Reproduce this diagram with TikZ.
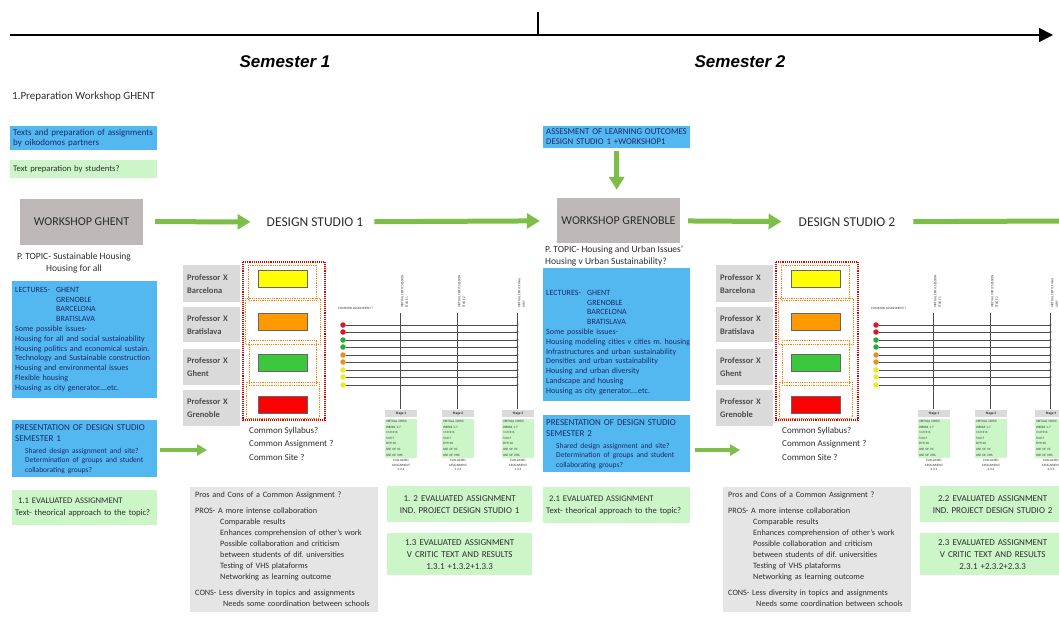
\documentclass[tikz,border=0pt]{standalone}
\usepackage{fontspec}
\setmainfont{Carlito}
\newfontfamily\semfont{Liberation Sans}
\usetikzlibrary{arrows.meta,positioning}

\definecolor{skyblue}{RGB}{84,184,240}
\definecolor{mint}{RGB}{204,246,200}
\definecolor{taupe}{RGB}{190,184,184}
\definecolor{profgrey}{RGB}{218,218,218}
\definecolor{palegrey}{RGB}{229,229,229}
\definecolor{leaf}{RGB}{124,190,72}
\definecolor{navy}{RGB}{28,42,105}
\definecolor{darktext}{RGB}{45,45,45}
\definecolor{dotred}{RGB}{215,25,35}
\definecolor{dotgreen}{RGB}{40,170,60}
\definecolor{dotorange}{RGB}{240,140,30}
\definecolor{dotyellow}{RGB}{235,235,40}
\definecolor{boxyellow}{RGB}{255,255,0}
\definecolor{boxorange}{RGB}{255,153,0}
\definecolor{boxgreen}{RGB}{60,200,60}
\definecolor{boxred}{RGB}{255,0,0}

\newcommand{\fsz}[2]{\fontsize{#1}{#2}\selectfont}

\begin{document}
\frenchspacing
\begin{tikzpicture}[
    x=1pt, y=-1pt,
    semester/.style={font=\semfont\bfseries\itshape\fsz{17}{20}},
    plain/.style={font=\fsz{11}{13}, text=darktext, inner sep=0pt},
    topic/.style={font=\fsz{9.5}{12}, text=darktext, inner sep=0pt},
    bluebox/.style={fill=skyblue, text=navy, anchor=north west, align=left, inner xsep=3pt, inner ysep=3pt, text width=141pt, font=\fsz{9}{10}},
    greenbox/.style={fill=mint, text=darktext, anchor=north west, align=left, inner xsep=3pt, inner ysep=3pt, text width=141pt, font=\fsz{8.6}{12}},
    evalbox/.style={fill=mint, text=darktext, anchor=north west, align=center, inner xsep=3pt, text width=139pt, minimum height=36pt, font=\fsz{9}{12}},
    workshop/.style={fill=taupe, text=darktext, minimum width=123pt, minimum height=46pt, font=\fsz{12}{14}},
    studio/.style={text=darktext, inner sep=0pt, font=\fsz{13.5}{15}},
    prof/.style={fill=profgrey, text=darktext!85, anchor=north west, align=left, text width=49pt, inner xsep=4pt, font=\bfseries\fsz{8.5}{13}},
    common/.style={anchor=north west, align=left, text=darktext, inner sep=0pt, font=\fsz{9}{13.5}},
    prosbox/.style={fill=palegrey, text=darktext, anchor=north west, align=left, inner xsep=5pt, inner ysep=5pt, text width=178pt, font=\fsz{8.2}{11}},
    tiny/.style={text=darktext, inner sep=0pt, font=\fsz{3.3}{4.5}},
    stagehead/.style={fill=profgrey, text=darktext, minimum width=32pt, minimum height=7pt, inner sep=0pt, font=\bfseries\fsz{3.5}{4}},
    stagebody/.style={fill=mint, text=darktext, text width=30pt, inner xsep=1pt, inner ysep=1.5pt, align=left, font=\fsz{3.3}{5.6}},
    stagenote/.style={align=center, text=darktext, inner sep=0pt, font=\fsz{3.3}{4.5}},
    dot/.style={circle, minimum size=5.5pt, inner sep=0pt},
    chartline/.style={line width=0.5pt, black!70, -{Stealth[length=2.5pt, width=2pt]}},
    reddots/.style={densely dotted, line width=1.1pt, red!85!black},
    orangedots/.style={densely dotted, line width=0.8pt, orange},
    group/.style={draw=black!60, line width=0.5pt},
    timeline/.style={line width=1.6pt, -{Triangle[length=14pt, width=14pt]}},
    bigarrow/.style={draw=leaf, line width=5pt, -{Triangle[length=13pt, width=15pt]}},
    bigline/.style={draw=leaf, line width=5pt},
    smallarrow/.style={draw=leaf, line width=4pt, -{Triangle[length=10pt, width=11pt]}}
]
    \useasboundingbox (0,0) rectangle (1059,616);

    % Timeline
    \coordinate (tstart) at (10,35);
    \coordinate (tend) at (1053,35);
    \coordinate (tmid) at (538,35);
    \coordinate (ttop) at (538,12);
    \draw [timeline] (tstart) -- (tend);
    \draw [line width=1.2pt] (tmid) -- (ttop);

    \node [semester] (sem1) at (285,62) {Semester 1};
    \node [semester] (sem2) at (740,62) {Semester 2};

    % Preparation
    \node [plain, anchor=west] (prep) at (12,97) {1.Preparation Workshop GHENT};
    \node [bluebox, minimum height=24pt] (texts) at (10,126) {Texts and preparation of assignments\\by oikodomos partners};
    \node [greenbox, minimum height=18pt] (students) at (10,160) {Text preparation by students?};

    % Workshops and design studios
    \node [workshop] (ghent) at (81.5,221.5) {WORKSHOP GHENT};
    \node [studio] (studio1) at (315,222) {DESIGN STUDIO 1};
    \node [workshop, minimum height=45pt] (grenoble) at (618.5,220.5) {WORKSHOP GRENOBLE};
    \node [studio] (studio2) at (847,222) {DESIGN STUDIO 2};
    \coordinate (rightedge) at (1059,221);

    \draw [bigarrow, shorten <=12pt, shorten >=16pt] (ghent) -- (studio1);
    \draw [bigarrow, shorten <=11pt, shorten >=17pt] (studio1) -- (grenoble);
    \draw [bigarrow, shorten <=8pt, shorten >=17pt] (grenoble) -- (studio2);
    \draw [bigline, shorten <=18pt] (studio2) -- (rightedge);

    % Assessment before Grenoble
    \node [bluebox, font=\fsz{8.8}{10}] (assess) at (543,126) {\mbox{ASSESMENT OF LEARNING OUTCOMES}\\DESIGN STUDIO 1 +WORKSHOP1};
    \draw [bigarrow, shorten <=3pt, shorten >=8pt] (assess) -- (assess |- grenoble.north);

    % Semester 1: topic, lectures, presentation
    \node [topic, align=center] (topic1) at (74,263) {P. TOPIC- Sustainable Housing\\Housing for all};

    \node [bluebox, text width=139pt, inner ysep=6pt, font=\fsz{8}{9.8}] (lectures1) at (12,281) {%
        \makebox[41pt][l]{LECTURES-}GHENT\\
        \hspace*{41pt}GRENOBLE\\
        \hspace*{41pt}BARCELONA\\
        \hspace*{41pt}BRATISLAVA\\
        Some possible issues-\\
        \mbox{Housing for all and social sustainability}\\
        \mbox{Housing politics and economical sustain.}\\
        \mbox{Technology and Sustainable construction}\\
        Housing and environmental issues\\
        Flexible housing\\
        Housing as city generator....etc.};

    \node [bluebox, text width=139pt, inner ysep=4pt] (pres1) at (12,420) {%
        \fsz{9}{11}PRESENTATION OF DESIGN STUDIO\\
        SEMESTER 1\\[3pt]
        \fsz{7.5}{9}\hspace*{10pt}Shared design assignment and site?\\
        \hspace*{10pt}Determination of groups and student\\
        \hspace*{10pt}collaborating groups?};

    \node [greenbox, text width=139pt, minimum height=35pt] (eval11) at (12,490) {\hspace*{3pt}1.1 EVALUATED ASSIGNMENT\\\mbox{Text- theorical approach to the topic?}};

    \coordinate (pres1tip) at (207,450);
    \draw [smallarrow, shorten <=3pt] (pres1.east |- pres1tip) -- (pres1tip);

    % Semester 2: topic, lectures, presentation
    \node [topic, anchor=north west, align=left] (topic2) at (545,246) {P. TOPIC- Housing and Urban Issues'\\Housing v Urban Sustainability?};

    \node [bluebox, inner ysep=6pt, font=\fsz{8}{9.8}] (lectures2) at (543,268) {%
        \rule{0pt}{21pt}\makebox[41pt][l]{LECTURES-}GHENT\\
        \hspace*{41pt}GRENOBLE\\
        \hspace*{41pt}BARCELONA\\
        \hspace*{41pt}BRATISLAVA\\
        Some possible issues-\\
        \mbox{Housing modeling cities v cities m. housing}\\
        \mbox{Infrastructures and urban sustainability}\\
        Densities and urban sustainability\\
        Housing and urban diversity\\
        Landscape and housing\\
        Housing as city generator....etc.};

    \node [bluebox, inner ysep=4pt] (pres2) at (543,415) {%
        \fsz{9}{11}PRESENTATION OF DESIGN STUDIO\\
        SEMESTER 2\\[3pt]
        \fsz{7.5}{9}\hspace*{10pt}Shared design assignment and site?\\
        \hspace*{10pt}Determination of groups and student\\
        \hspace*{10pt}collaborating groups?};

    \node [greenbox, minimum height=36pt] (eval21) at (543,487) {\hspace*{3pt}2.1 EVALUATED ASSIGNMENT\\\mbox{Text- theorical approach to the topic?}};

    \coordinate (pres2tip) at (740,450);
    \draw [smallarrow, shorten <=5pt] (pres2.east |- pres2tip) -- (pres2tip);

    % Design studio blocks, same layout in both semesters
    \foreach \s/\xs/\ea in {1/0/{1. 2}, 2/533/{2.2}} {
    \begin{scope}[xshift=\xs]
        % Professors
        \node [prof, minimum height=37pt] (prof\s-1) at (183,265) {Professor X\\Barcelona};
        \node [prof, minimum height=35pt] (prof\s-2) at (183,307) {Professor X\\Bratislava};
        \node [prof, minimum height=36pt] (prof\s-3) at (183,349) {Professor X\\Ghent};
        \node [prof, minimum height=36pt] (prof\s-4) at (183,390) {Professor X\\Grenoble};

        % Student groups
        \draw [reddots] (243,262) rectangle (325,420);
        \draw [orangedots] (248,265) rectangle (316,300);
        \draw [orangedots] (245,298) rectangle (320,344);
        \draw [orangedots] (249,340) rectangle (316,385);
        \draw [orangedots] (246,382) rectangle (319,418);
        \draw [group, fill=boxyellow] (258,270) rectangle (307,287);
        \draw [group, fill=boxorange] (258,313) rectangle (307,330);
        \draw [group, fill=boxgreen] (258,354) rectangle (307,371);
        \draw [group, fill=boxred] (258,396) rectangle (307,413);

        \node [common] (common\s) at (249,427) {Common Syllabus?\\Common Assignment ?\\Common Site ?};

        % Common assignment chart
        \node [tiny, anchor=west] (ca\s) at (338,308) {COMMON ASSIGNMENT ?};
        \foreach \y/\c [count=\r] in {325/dotred, 332/dotred, 340/dotgreen, 347/dotgreen, 355/dotorange, 362/dotorange, 370/dotyellow, 377/dotyellow, 385/dotyellow} {
            \node [dot, fill=\c] (dot\s-\r) at (343,\y) {};
            \coordinate (end\s-\r) at (519,\y);
            \draw [chartline] (dot\s-\r) -- (end\s-\r);
        }
        \foreach \x/\n/\la/\lb in {400/1/{VIRTUAL CRITIC SESSION}/{STAGE 1}, 457/2/{VIRTUAL CRITIC SESSION}/{STAGE 2}, 517/3/{VIRTUAL CRITIC FINAL}/{JURY}} {
            \coordinate (vt\s-\n) at (\x,313);
            \coordinate (vb\s-\n) at (\x,409);
            \draw [line width=0.5pt, black!70] (vt\s-\n) -- (vb\s-\n);
            \node [tiny, rotate=90, anchor=south west, align=left] (vl\s-\n) at (\x+8,308) {\la\\\lb};
            \node [stagehead] (st\s-\n) at (\x+1,413.5) {Stage \n};
            \node [stagebody, below=1.5pt of st\s-\n] (sb\s-\n) {VIRTUAL CRITIC\\WEEKS 1-7\\1+2+3+4\\5+6+7\\8+9+10\\USE OF VC\\USE OF VHS};
            \node [stagenote, below=1.5pt of sb\s-\n] (sn\s-\n) {EVALUATED\\ASSIGNMENT\\\s.3.\n};
        }

        % Evaluated assignments of the studio
        \node [evalbox] (eval\s-2) at (387,486) {\ea\ EVALUATED ASSIGNMENT\\IND. PROJECT DESIGN STUDIO \s};
        \node [evalbox, minimum height=42pt] (eval\s-3) at (387,533) {\s.3 EVALUATED ASSIGNMENT\\V CRITIC TEXT AND RESULTS\\\s.3.1 +\s.3.2+\s.3.3};

        % Pros and cons
        \node [prosbox] (pros\s) at (190,487) {%
            Pros and Cons of a Common Assignment ?\\[5pt]
            PROS- A more intense collaboration\\
            \hspace*{25pt}Comparable results\\
            \hspace*{25pt}Enhances comprehension of other's work\\
            \hspace*{25pt}Possible collaboration and criticism\\
            \hspace*{25pt}between students of dif. universities\\
            \hspace*{25pt}Testing of VHS plataforms\\
            \hspace*{25pt}Networking as learning outcome\\[5pt]
            CONS- Less diversity in topics and assignments\\
            \hspace*{28pt}Needs some coordination between schools};
    \end{scope}
    }

\end{tikzpicture}
\end{document}
